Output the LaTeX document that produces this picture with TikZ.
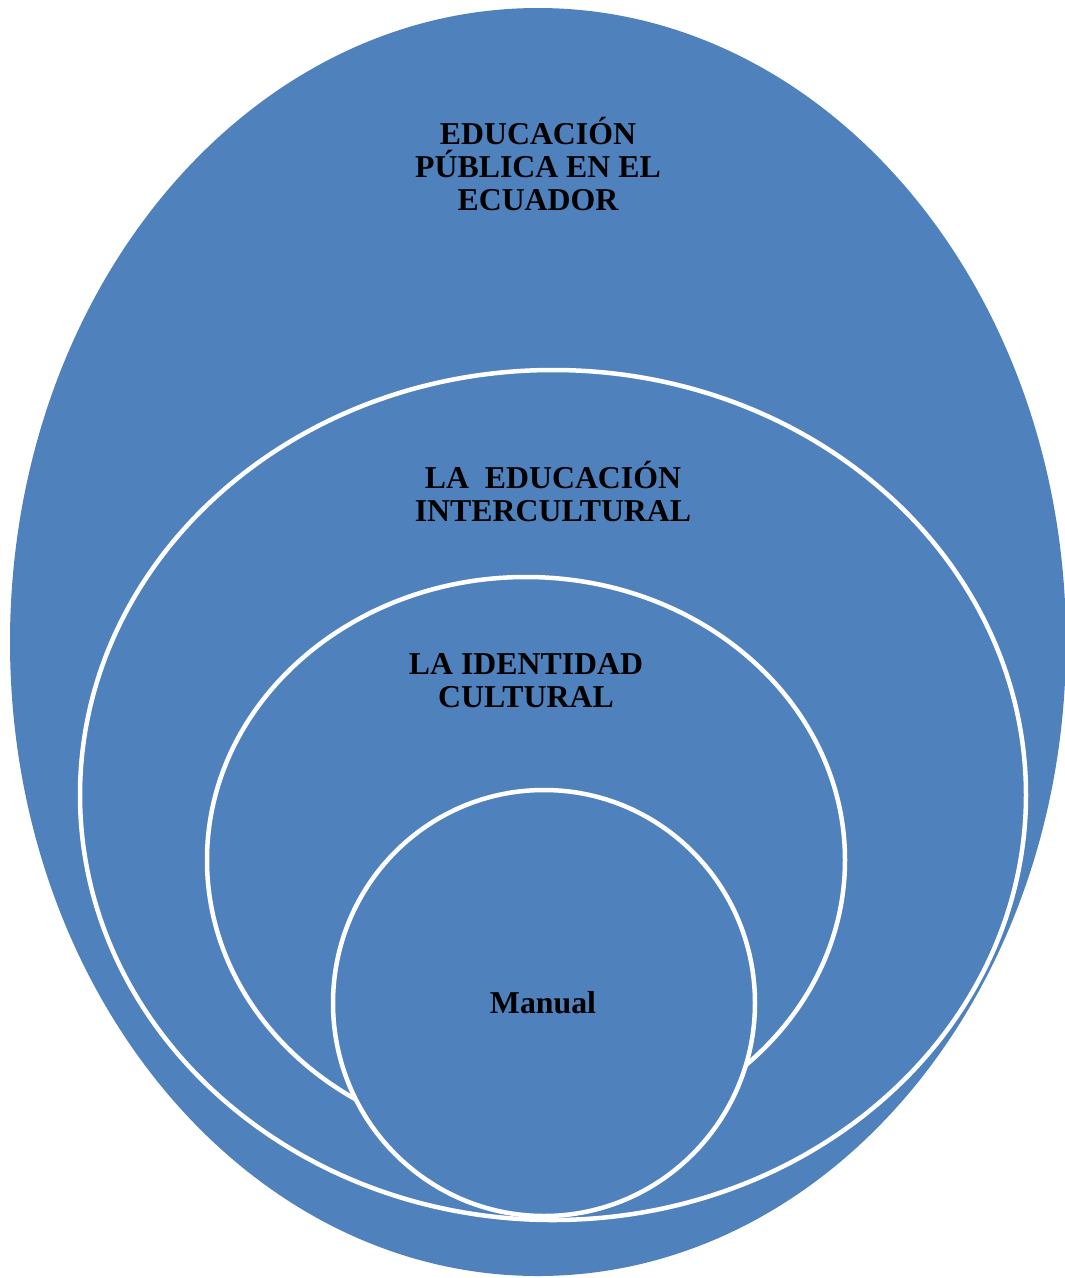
\documentclass[tikz,border=0pt]{standalone}
\usepackage{fontspec}
\setmainfont{Liberation Serif}
\usetikzlibrary{shapes.geometric}
\definecolor{venblue}{RGB}{79,129,189}

\begin{document}
\begin{tikzpicture}[x = 1pt, y = -1pt, line width = 4.5pt,
                        ring/.style = {ellipse, draw = white, fill = venblue, inner sep = 0pt},
                        caption/.style = {align = center, inner sep = 0pt,
                                          font = \fontsize{31.8}{33}\selectfont\bfseries}]
      \useasboundingbox (0, 0) rectangle (1065, 1278);
      \node [ring, draw = none, minimum width = 1056pt, minimum height = 1268pt] (publica) at (538, 642){};
      \node [ring, minimum width = 946pt, minimum height = 850pt] (intercultural) at (553, 795){};
      \node [ring, minimum width = 638pt, minimum height = 566pt] (identidad) at (526, 860){};
      \node [ring, minimum width = 422pt, minimum height = 426pt] (manual) at (544, 1003){};
      \node [caption] (t1) at (538, 164){EDUCACIÓN\\PÚBLICA EN EL\\ECUADOR};
      \node [caption] (t2) at (553, 492){LA\ \ EDUCACIÓN\\INTERCULTURAL};
      \node [caption] (t3) at (526, 681){LA IDENTIDAD\\CULTURAL};
      \node [caption] (t4) at (543, 1003){Manual};
    \end{tikzpicture}
\end{document}
